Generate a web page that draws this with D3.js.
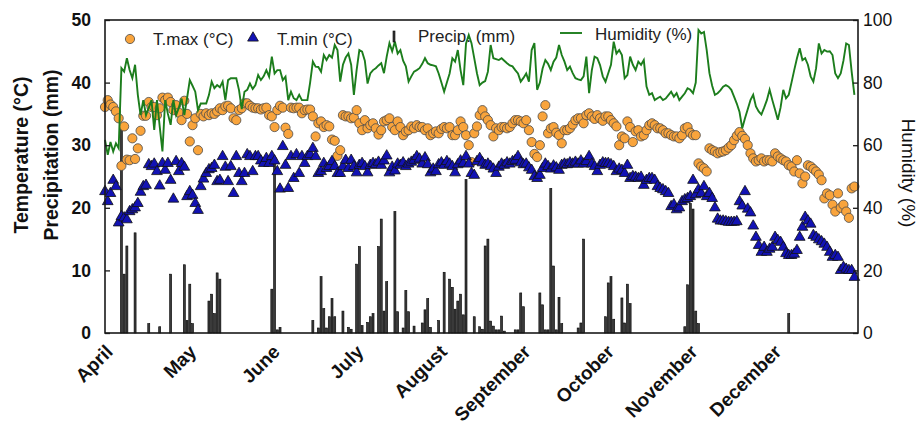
<!DOCTYPE html>
<html><head><meta charset="utf-8">
<script src="https://cdn.jsdelivr.net/npm/d3@7"></script>
<style>
html,body{margin:0;padding:0;background:#fff;}
svg text{font-family:"Liberation Sans",Arial,sans-serif;}
</style></head>
<body><svg id="c" width="921" height="431"></svg>
<script>
const months = ["April","May","June","July","August","September","October","November","December"];
const tempTicks = [0,10,20,30,40,50];
const humTicks = [0,20,40,60,80,100];

const tmax = [36.1,37.2,36.5,36.1,35.4,34.3,26.7,33.0,27.7,27.6,31.1,27.8,29.5,32.3,34.7,34.7,
36.9,36.1,36.1,34.8,35.9,37.6,37.2,37.6,36.9,35.6,36.4,35.2,34.0,37.1,35.0,30.6,33.2,34.3,29.2,35.0,34.6,35.1,34.8,35.1,35.0,35.4,35.9,35.6,36.2,36.3,
35.9,34.3,34.0,35.6,35.9,36.7,36.7,36.3,36.0,35.9,35.9,35.7,35.9,36.0,34.8,34.6,32.9,35.6,36.3,36.0,32.8,31.8,36.0,35.9,36.0,36.0,35.1,35.6,35.7,35.7,34.6,31.4,33.5,33.8,32.9,33.2,33.0,30.9,30.7,28.3,29.2,34.8,34.6,34.6,34.3,34.4,
35.6,33.5,32.4,34.0,32.7,33.2,33.5,32.7,31.7,32.4,33.8,34.0,34.3,32.9,32.4,33.8,32.9,31.6,32.2,32.4,33.0,32.7,33.2,32.9,32.9,32.4,32.7,31.6,31.9,32.2,31.9,32.6,32.9,32.7,32.9,31.6,31.6,32.4,33.8,32.9,31.6,30.0,27.3,31.9,33.0,34.8,
35.6,34.6,34.0,33.2,31.4,32.7,32.4,32.9,32.9,32.7,32.9,33.5,34.0,34.0,33.8,33.5,34.0,32.4,30.5,28.6,28.1,30.0,34.6,36.4,31.9,32.7,32.9,32.0,31.6,30.3,32.4,32.4,32.7,33.3,34.0,34.3,34.3,33.5,34.8,35.1,34.6,34.2,34.8,34.3,33.9,34.6,
34.6,34.0,33.5,33.0,30.0,31.4,31.1,33.8,32.9,30.5,32.2,32.4,31.4,31.6,32.4,33.2,33.5,33.2,32.7,32.7,32.4,31.9,31.9,31.6,31.4,31.4,31.1,31.6,32.7,32.9,32.0,31.6,31.6,27.1,26.6,26.3,25.8,29.5,29.2,29.0,28.7,28.9,29.0,29.2,29.6,30.0,
30.8,31.5,32.1,31.5,31.0,30.0,28.7,27.9,27.4,27.6,27.9,27.4,27.6,27.6,27.4,28.7,28.2,27.9,27.6,27.4,26.8,26.6,25.8,27.6,25.5,23.9,25.0,26.8,26.6,26.2,25.8,25.3,24.4,21.5,22.3,22.0,20.5,19.4,22.3,20.0,20.5,19.4,18.4,23.1,23.4];

const tmin = [22.6,21.0,22.3,24.4,23.4,17.6,18.6,18.4,18.1,19.4,19.7,20.0,20.7,22.5,23.4,23.6,26.9,26.6,27.0,25.8,23.5,27.1,26.0,27.1,24.4,21.4,27.4,25.8,27.1,26.5,21.8,22.6,22.0,20.7,19.6,23.4,24.6,25.5,26.1,26.3,26.8,24.2,24.4,28.2,26.5,24.2,
26.6,22.3,28.2,25.5,24.2,25.5,28.5,28.2,25.8,28.2,28.2,27.5,27.1,27.9,27.1,28.2,27.5,25.8,23.0,29.8,26.8,23.1,28.2,24.7,28.5,25.5,28.2,27.1,28.2,28.5,29.5,28.2,25.5,25.8,27.1,26.3,26.6,27.4,26.6,25.5,25.5,26.6,27.6,26.3,27.6,26.6,
25.6,26.8,27.1,26.6,25.6,26.8,27.1,26.9,27.3,26.8,27.5,28.3,25.6,26.5,25.9,27.0,26.8,27.2,26.6,27.0,27.3,27.6,28.2,27.8,27.0,28.0,26.9,25.6,26.2,25.8,26.9,27.2,26.8,27.4,27.0,26.6,25.6,26.9,27.5,27.1,28.2,27.0,25.5,25.2,27.4,27.9,
27.2,26.8,27.0,26.6,26.2,25.5,26.5,27.0,26.8,27.2,27.0,27.4,27.6,28.2,27.2,26.9,27.0,26.4,26.0,25.0,24.7,25.2,26.3,27.0,26.6,26.2,26.7,26.4,26.0,26.8,27.0,26.9,27.2,27.0,27.3,27.0,27.5,27.0,27.4,28.2,27.0,26.6,25.8,26.8,27.2,27.1,
27.1,26.9,26.6,25.8,26.2,26.0,25.5,26.8,24.7,25.0,24.9,24.7,24.9,23.6,24.4,24.7,24.7,24.4,23.4,23.1,22.9,22.6,22.3,20.2,20.5,19.7,20.0,21.0,21.3,21.5,21.8,24.4,22.1,22.9,22.3,23.4,21.8,22.3,21.5,20.0,18.2,17.9,17.9,17.8,17.7,17.7,
17.7,17.8,21.0,20.3,22.6,19.8,19.2,17.1,15.3,14.0,12.9,13.7,12.9,13.4,13.7,15.3,14.8,14.5,13.7,12.7,12.4,12.4,12.6,13.2,15.3,16.9,18.5,17.9,17.4,15.6,15.3,14.9,14.6,14.2,13.7,12.9,12.1,12.4,12.1,10.0,10.5,10.2,10.0,10.0,8.9];

const humidity = [61.7,56.9,61.0,58.0,60.6,59.0,84.6,83.5,87.8,84.0,81.4,85.7,76.1,69.6,74.4,69.6,72.0,74.4,64.9,74.4,66.0,58.0,74.4,70.0,66.5,74.4,69.6,72.0,74.9,69.6,75.0,80.8,79.0,77.1,71.2,73.3,73.3,73.3,76.0,80.3,78.2,79.2,78.5,80.3,74.4,80.8,
81.4,81.4,81.4,77.6,71.5,77.1,77.7,79.7,78.0,79.2,82.4,80.8,82.0,84.0,81.9,88.3,82.9,84.0,84.0,80.8,81.9,74.4,77.1,75.0,74.4,76.1,74.4,74.4,74.4,80.0,86.7,85.1,85.0,83.5,88.8,87.2,88.8,88.0,92.0,90.4,80.3,85.7,88.0,89.3,85.7,76.1,
84.0,90.4,89.9,87.0,79.7,82.9,84.0,84.6,85.5,86.2,83.0,88.3,92.6,90.0,93.1,89.3,90.4,87.0,85.2,80.3,82.0,83.5,84.0,84.6,86.0,87.8,86.2,85.7,85.5,85.2,82.9,80.0,77.1,80.0,82.9,87.8,86.7,90.4,84.0,79.2,92.5,95.2,92.6,87.8,83.0,79.2,
80.0,80.5,83.5,92.0,87.8,87.5,87.2,87.8,87.0,86.2,85.5,85.2,84.0,82.9,80.3,81.5,82.9,80.3,90.4,92.6,77.7,80.0,84.5,87.2,86.0,84.0,86.7,88.0,92.0,88.8,86.7,84.0,85.1,83.0,81.4,81.0,80.8,82.0,88.3,76.6,84.0,88.3,87.8,85.6,82.0,80.3,
83.0,85.7,93.1,89.3,90.4,88.8,81.4,82.4,88.3,85.7,84.0,86.7,85.7,87.2,78.7,76.1,76.6,74.4,75.0,75.5,74.4,74.9,76.0,77.1,75.5,76.6,74.4,75.5,76.6,78.2,77.7,76.6,80.0,96.8,95.7,96.2,90.4,83.0,79.0,76.1,76.6,77.5,78.7,79.2,78.7,77.7,
75.5,73.3,70.6,65.4,68.6,71.5,74.4,76.1,72.4,70.8,69.8,72.0,74.4,77.7,74.4,71.3,68.1,72.0,77.7,75.0,76.1,80.0,84.0,87.8,91.0,87.2,87.8,85.7,82.0,80.3,84.6,92.5,89.3,90.4,89.9,90.0,88.8,82.9,81.4,82.9,87.0,92.5,92.0,83.5,76.1];

const precipDay = [6,7,8,11,16,20,24,29,30,31,32,38,39,40,41,42,61,62,63,64,76,78,79,80,81,82,83,84,87,89,90,92,93,94,96,97,98,100,101,102,103,106,107,109,110,111,113,116,117,118,119,122,124,126,127,128,129,130,131,132,135,137,138,139,140,141,142,143,144,145,146,150,151,152,153,159,160,161,162,163,164,165,166,167,173,174,175,183,184,185,186,189,190,191,192,212,213,214,215,216,217,250];
const precipMm = [32.7,9.4,13.9,16.0,1.5,1.0,9.4,10.9,2.0,7.8,1.5,5.1,6.2,3.1,9.6,8.6,7.0,27.6,0.5,0.9,2.0,0.8,9.0,3.9,0.8,2.6,5.5,2.6,3.5,0.9,0.6,11.0,13.8,1.2,1.7,2.6,3.1,13.8,18.2,3.5,8.2,19.4,3.4,0.8,6.8,3.4,1.1,1.6,3.7,5.5,0.9,2.0,9.7,8.6,7.3,3.8,5.1,6.2,2.9,24.5,2.6,1.0,0.6,13.9,15.0,1.9,1.1,0.5,0.5,2.7,0.3,0.5,0.5,6.4,4.2,6.4,4.5,0.5,0.5,23.1,10.7,0.5,5.7,1.5,0.8,1.6,15.0,2.6,8.0,9.0,2.2,5.6,1.6,7.8,4.7,1.0,7.7,20.7,19.8,3.5,1.5,3.1];

const svg = d3.select("#c");
const L = 105, R = 858, T = 20, B = 333;
const x = d3.scaleLinear().domain([0, 275]).range([L, L + 275 * 2.735]);
const yT = d3.scaleLinear().domain([0, 50]).range([B, T]);
const yH = d3.scaleLinear().domain([0, 100]).range([B, T]);

// precipitation bars
const precip = precipDay.map((d, i) => ({d, v: precipMm[i]}));
svg.append("g").selectAll("rect").data(precip).join("rect")
  .attr("x", p => x(p.d) - 1).attr("width", 2)
  .attr("y", p => yT(p.v)).attr("height", p => B - yT(p.v))
  .attr("fill", "#3a3a3a").attr("stroke", "#000").attr("stroke-width", 0.6);

// Tmax circles
svg.append("g").selectAll("circle").data(tmax).join("circle")
  .attr("cx", (v, i) => x(i)).attr("cy", v => yT(v)).attr("r", 4.6)
  .attr("fill", "#F9A43C").attr("stroke", "#4a4a4a").attr("stroke-width", 0.8);

// Tmin triangles
const tri = d3.symbol().type(d3.symbolTriangle).size(50);
svg.append("g").selectAll("path").data(tmin).join("path")
  .attr("d", tri).attr("transform", (v, i) => `translate(${x(i)},${yT(v)})`)
  .attr("fill", "#1212B4").attr("stroke", "#111").attr("stroke-width", 0.8);

// Humidity line
svg.append("path").datum(humidity)
  .attr("d", d3.line().x((v, i) => x(i)).y(v => yH(v)))
  .attr("fill", "none").attr("stroke", "#1C7D1C").attr("stroke-width", 1.9);

// frame
svg.append("rect").attr("x", L).attr("y", T).attr("width", R - L).attr("height", B - T)
  .attr("fill", "none").attr("stroke", "#1a1a1a").attr("stroke-width", 1.6);

// left axis
const ax = svg.append("g").attr("transform", `translate(${L},0)`)
  .call(d3.axisLeft(yT).tickValues(tempTicks).tickSize(-5).tickPadding(14).tickFormat(d3.format("d")));
ax.select(".domain").remove();
ax.selectAll("line").attr("stroke", "#1a1a1a").attr("stroke-width", 1.3);
ax.selectAll("text").attr("font-size", 17.5).attr("font-weight", "bold").attr("fill", "#111");

// right axis
const ar = svg.append("g").attr("transform", `translate(${R},0)`)
  .call(d3.axisRight(yH).tickValues(humTicks).tickSize(-5).tickPadding(5).tickFormat(d3.format("d")));
ar.select(".domain").remove();
ar.selectAll("line").attr("stroke", "#1a1a1a").attr("stroke-width", 1.3);
ar.selectAll("text").attr("font-size", 17.5).attr("fill", "#111");

// month labels
const mx = d3.scalePoint().domain(months).range([114, 114 + 8 * 83.55]);
svg.append("g").selectAll("text").data(months).join("text")
  .attr("transform", m => `translate(${mx(m)},353) rotate(-45)`)
  .attr("text-anchor", "end").attr("font-size", 19).attr("font-weight", "bold").attr("fill", "#111")
  .text(m => m);

// axis titles
svg.append("text").attr("transform", "translate(28,155) rotate(-90)").attr("text-anchor", "middle")
  .attr("font-size", 19.5).attr("font-weight", "bold").attr("fill", "#111").text("Temperature (°C)");
svg.append("text").attr("transform", "translate(58,155) rotate(-90)").attr("text-anchor", "middle")
  .attr("font-size", 19.5).attr("font-weight", "bold").attr("fill", "#111").text("Precipitation (mm)");
svg.append("text").attr("transform", "translate(902,173) rotate(90)").attr("text-anchor", "middle")
  .attr("font-size", 19).attr("fill", "#111").text("Humidity (%)");

// legend
const lg = svg.append("g").attr("font-size", 17).attr("fill", "#222");
lg.append("circle").attr("cx", 130).attr("cy", 39).attr("r", 4.6)
  .attr("fill", "#F9A43C").attr("stroke", "#4a4a4a").attr("stroke-width", 0.8);
lg.append("text").attr("x", 153).attr("y", 45).text("T.max (°C)");
lg.append("path").attr("d", tri).attr("transform", "translate(253,38)")
  .attr("fill", "#1212B4").attr("stroke", "#111").attr("stroke-width", 0.8);
lg.append("text").attr("x", 277).attr("y", 45).text("T.min (°C)");
lg.append("rect").attr("x", 393).attr("y", 31).attr("width", 2).attr("height", 11)
  .attr("fill", "#3a3a3a").attr("stroke", "#000").attr("stroke-width", 0.6);
lg.append("text").attr("x", 418).attr("y", 42).text("Precip. (mm)");
lg.append("line").attr("x1", 560).attr("x2", 582).attr("y1", 33).attr("y2", 33)
  .attr("stroke", "#1C7D1C").attr("stroke-width", 1.9);
lg.append("text").attr("x", 595).attr("y", 40).text("Humidity (%)");
</script></body></html>
